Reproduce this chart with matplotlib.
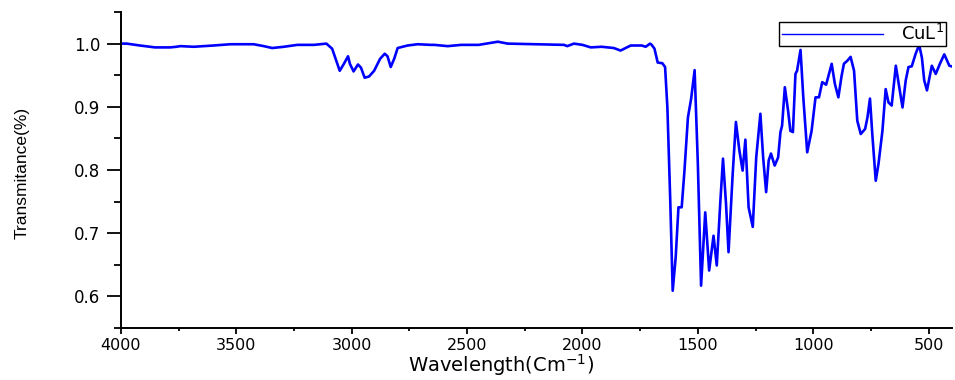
import matplotlib
matplotlib.use('Agg')
import matplotlib.pyplot as plt
from matplotlib.ticker import MultipleLocator

# IR spectrum of the CuL1 complex
wavenumber = [4000, 3975, 3918, 3852, 3787, 3760, 3743, 3685, 3640, 3599,
              3526, 3425, 3381, 3345, 3294, 3236, 3164, 3110, 3085, 3070,
              3052, 3034, 3016, 3008, 2992, 2973, 2960, 2944, 2925, 2903,
              2877, 2857, 2845, 2831, 2816, 2801, 2758, 2715, 2657, 2642,
              2584, 2526, 2450, 2367, 2324, 2200, 2080, 2066, 2037, 2000,
              1964, 1917, 1864, 1835, 1791, 1743, 1726, 1707, 1700, 1688,
              1674, 1654, 1642, 1632, 1620, 1609, 1596, 1584, 1570, 1558,
              1543, 1529, 1514, 1500, 1486, 1468, 1451, 1432, 1418, 1403,
              1391, 1378, 1367, 1349, 1335, 1320, 1306, 1294, 1280, 1262,
              1247, 1229, 1217, 1204, 1193, 1183, 1167, 1152, 1142, 1135,
              1123, 1109, 1099, 1088, 1077, 1070, 1055, 1043, 1026, 1007,
              990, 975, 961, 944, 920, 906, 891, 877, 867, 852,
              838, 823, 809, 794, 775, 765, 754, 744, 729, 717,
              700, 686, 674, 660, 642, 627, 613, 599, 587, 573,
              556, 541, 529, 519, 507, 486, 469, 451, 432, 410, 400]
transmittance = [1.000, 1.000, 0.997, 0.994, 0.994, 0.995, 0.996, 0.995, 0.996, 0.997,
                 0.999, 0.999, 0.996, 0.993, 0.995, 0.998, 0.998, 1.000, 0.992, 0.976,
                 0.957, 0.968, 0.980, 0.968, 0.956, 0.967, 0.962, 0.946, 0.948, 0.957,
                 0.976, 0.984, 0.980, 0.963, 0.976, 0.993, 0.997, 0.999, 0.998, 0.998,
                 0.996, 0.998, 0.998, 1.003, 1.000, 0.999, 0.998, 0.996, 1.000, 0.998,
                 0.994, 0.995, 0.993, 0.989, 0.997, 0.997, 0.995, 1.000, 0.998, 0.992,
                 0.970, 0.969, 0.963, 0.899, 0.757, 0.609, 0.662, 0.741, 0.741, 0.799,
                 0.883, 0.913, 0.958, 0.810, 0.617, 0.733, 0.641, 0.696, 0.649, 0.747,
                 0.818, 0.747, 0.670, 0.794, 0.876, 0.831, 0.799, 0.848, 0.741, 0.710,
                 0.820, 0.889, 0.820, 0.765, 0.815, 0.826, 0.807, 0.820, 0.860, 0.870,
                 0.931, 0.894, 0.862, 0.860, 0.952, 0.957, 0.990, 0.915, 0.828, 0.862,
                 0.915, 0.915, 0.939, 0.935, 0.968, 0.936, 0.915, 0.949, 0.968, 0.973,
                 0.979, 0.957, 0.878, 0.857, 0.865, 0.883, 0.913, 0.857, 0.783, 0.810,
                 0.862, 0.928, 0.907, 0.902, 0.965, 0.931, 0.899, 0.942, 0.963, 0.964,
                 0.984, 0.998, 0.978, 0.942, 0.926, 0.965, 0.952, 0.968, 0.983, 0.965, 0.964]

plt.rcParams['font.family'] = 'DejaVu Sans'

fig = plt.figure(figsize=(9.55, 3.80), dpi=100)
ax = fig.add_axes([0.1267, 0.1368, 0.8698, 0.8316])

ax.plot(wavenumber, transmittance, color='#0000ff', lw=1.9,
        solid_joinstyle='round', label='CuL$^{1}$')

ax.set_xlim(4000, 400)
ax.set_ylim(0.55, 1.05)
ax.xaxis.set_major_locator(MultipleLocator(500))
ax.xaxis.set_minor_locator(MultipleLocator(250))
ax.yaxis.set_major_locator(MultipleLocator(0.1))
ax.yaxis.set_minor_locator(MultipleLocator(0.05))
ax.yaxis.set_major_formatter(lambda v, p: '{:.1f}'.format(v))

for s in ['top', 'right']:
    ax.spines[s].set_visible(False)
for s in ['left', 'bottom']:
    ax.spines[s].set_linewidth(1.4)

ax.tick_params(axis='x', which='major', direction='out', length=4.3, width=1.3,
               labelsize=11.5, pad=3)
ax.tick_params(axis='x', which='minor', direction='out', length=2.2, width=1.3)
ax.tick_params(axis='y', which='major', direction='out', length=9.8, width=1.3,
               labelsize=12, pad=5)
ax.tick_params(axis='y', which='minor', direction='out', length=5, width=1.3)

ax.set_xlabel('Wavelength(Cm$^{-1}$)', fontsize=14)
ax.xaxis.set_label_coords(0.457, -0.077)
ax.xaxis.label.set_va('top')
ax.set_ylabel('Transmitance(%)', fontsize=12.5, family='Liberation Sans')
ax.yaxis.set_label_coords(-0.11, 0.49)

leg = ax.legend(loc='upper right', bbox_to_anchor=(0.9906, 0.942),
                bbox_transform=fig.transFigure, borderaxespad=0,
                fontsize=13, handlelength=5.6, handletextpad=1.0,
                borderpad=0.12, fancybox=False, framealpha=1)
leg.get_frame().set_edgecolor('black')
leg.get_frame().set_linewidth(1.0)
leg.get_lines()[0].set_linewidth(1.0)

fig.savefig('out.png', dpi=100)
